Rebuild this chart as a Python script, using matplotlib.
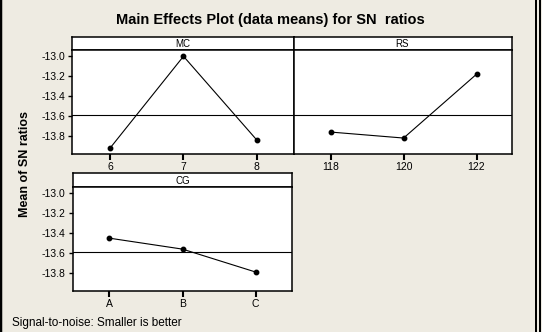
import numpy as np
import matplotlib.pyplot as plt
from matplotlib.lines import Line2D

plt.rcParams['font.family'] = ['Liberation Sans', 'DejaVu Sans']

mc_levels = [6, 7, 8]
mc_sn = [-13.92, -13.00, -13.84]
rs_levels = [118, 120, 122]
rs_sn = [-13.76, -13.82, -13.18]
cg_levels = ['A', 'B', 'C']
cg_sn = [-13.45, -13.56, -13.79]
y_ticks = [-13.0, -13.2, -13.4, -13.6, -13.8]
grand_mean = np.mean(mc_sn)

W, H = 542, 332
bg = '#EEEBE2'
fig = plt.figure(figsize=(W / 100, H / 100), dpi=100, facecolor=bg)


def box(x0, y0, x1, y1):
    return fig.add_axes([x0 / W, 1 - y1 / H, (x1 - x0) / W, (y1 - y0) / H])


def panel(x0, x1, ytop, ystrip, ybot, name, xs, ys, xlim, labels, show_y):
    st = box(x0, ytop, x1, ystrip)
    st.set_xticks([])
    st.set_yticks([])
    st.set_facecolor('white')
    st.text(0.5, 0.45, name, ha='center', va='center', fontsize=7, transform=st.transAxes)
    for s in st.spines.values():
        s.set_linewidth(1.1)
    ax = box(x0, ystrip, x1, ybot)
    ax.set_facecolor('white')
    ax.plot(xs, ys, color='black', lw=0.8, marker='o', ms=3.2)
    ax.axhline(grand_mean, color='black', lw=0.8)
    ax.set_xlim(*xlim)
    ax.set_ylim(-13.98, -12.94)
    ax.set_xticks(xs)
    ax.set_xticklabels(labels, fontsize=7.5)
    ax.tick_params(axis='x', length=4, width=1.5, pad=2)
    if show_y:
        ax.set_yticks(y_ticks)
        ax.set_yticklabels([f'{v:.1f}' for v in y_ticks], fontsize=7.5)
        ax.tick_params(axis='y', length=3, width=1, pad=2)
    else:
        ax.set_yticks([])
    for s in ax.spines.values():
        s.set_linewidth(1.1)
    return ax


panel(72, 293.5, 37.3, 50.3, 154, 'MC', mc_levels, mc_sn, (5.48, 8.5),
      [str(v) for v in mc_levels], True)
panel(293.5, 511.5, 37.3, 50.3, 154, 'RS', rs_levels, rs_sn, (116.98, 122.96),
      [str(v) for v in rs_levels], False)
panel(72.7, 292.3, 173.3, 187.3, 291, 'CG', [0, 1, 2], cg_sn, (-0.5, 2.5),
      cg_levels, True)

fig.text(270 / W, 1 - 20 / H, 'Main Effects Plot (data means) for SN  ratios',
         ha='center', va='center', fontsize=10.5, fontweight='bold')
fig.text(25 / W, 1 - 164 / H, 'Mean of SN ratios', rotation=90,
         ha='center', va='center', fontsize=9, fontweight='bold')
fig.text(12 / W, 1 - 323 / H, 'Signal-to-noise: Smaller is better',
         ha='left', va='center', fontsize=8.5)

for xp, lw in [(1, 2.5), (536, 2), (540, 2)]:
    fig.add_artist(Line2D([xp / W, xp / W], [0, 1], color='black', lw=lw * 0.72))

fig.savefig('out.png', dpi=100, facecolor=bg)
